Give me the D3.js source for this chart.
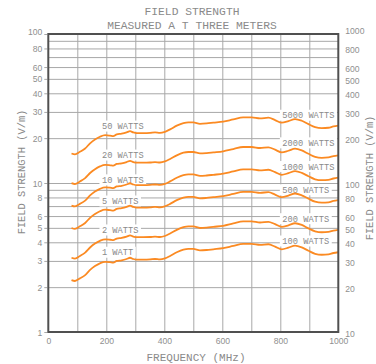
<!DOCTYPE html>
<html><head><meta charset="utf-8">
<script src="https://cdn.jsdelivr.net/npm/d3@7"></script>
<style>
html,body{margin:0;padding:0;background:#fff;}
svg{display:block;}
</style></head>
<body>
<svg id="c" width="376" height="364"></svg>
<script>
// ---- data ----
const freqs = [80,92,109,127,144,161,178,196,213,224,236,253,270,282,293,305,328,351,368,385,402,420,443,466,483,500,523,546,569,603,638,672,701,730,759,782,805,828,851,874,897,920,943,966,983,1000];
const w1  = [2.23,2.20,2.29,2.41,2.61,2.77,2.89,2.96,2.94,2.92,3.00,3.03,3.09,3.15,3.09,3.06,3.06,3.07,3.09,3.07,3.12,3.24,3.43,3.57,3.61,3.61,3.53,3.55,3.59,3.65,3.78,3.90,3.90,3.84,3.88,3.74,3.59,3.68,3.80,3.70,3.51,3.35,3.30,3.32,3.39,3.43];
const w2  = [3.15,3.11,3.24,3.41,3.69,3.92,4.09,4.19,4.16,4.13,4.24,4.29,4.37,4.45,4.37,4.33,4.33,4.34,4.37,4.34,4.41,4.58,4.85,5.05,5.11,5.11,4.99,5.02,5.08,5.16,5.35,5.52,5.52,5.43,5.49,5.29,5.08,5.20,5.37,5.23,4.96,4.74,4.67,4.70,4.79,4.85];
const w5  = [4.99,4.92,5.12,5.39,5.84,6.19,6.46,6.62,6.57,6.53,6.71,6.78,6.91,7.04,6.91,6.84,6.84,6.86,6.91,6.86,6.98,7.24,7.67,7.98,8.07,8.07,7.89,7.94,8.03,8.16,8.45,8.72,8.72,8.59,8.68,8.36,8.03,8.23,8.50,8.27,7.85,7.49,7.38,7.42,7.58,7.67];
const w10 = [7.05,6.96,7.24,7.62,8.25,8.76,9.14,9.36,9.30,9.23,9.49,9.58,9.77,9.96,9.77,9.68,9.68,9.71,9.77,9.71,9.87,10.25,10.85,11.29,11.42,11.42,11.16,11.23,11.35,11.54,11.95,12.33,12.33,12.14,12.27,11.83,11.35,11.64,12.02,11.70,11.10,10.59,10.44,10.50,10.72,10.85];
const w20 = [9.97,9.84,10.24,10.78,11.67,12.39,12.92,13.24,13.15,13.06,13.42,13.55,13.82,14.09,13.82,13.68,13.68,13.73,13.82,13.73,13.95,14.49,15.34,15.97,16.14,16.14,15.79,15.88,16.05,16.32,16.90,17.44,17.44,17.17,17.35,16.73,16.05,16.46,16.99,16.55,15.70,14.98,14.76,14.85,15.16,15.34];
const w50 = [15.77,15.56,16.19,17.04,18.46,19.59,20.44,20.93,20.79,20.65,21.21,21.43,21.85,22.27,21.85,21.64,21.64,21.71,21.85,21.71,22.06,22.91,24.25,25.24,25.53,25.53,24.96,25.10,25.39,25.81,26.73,27.58,27.58,27.15,27.44,26.45,25.39,26.02,26.87,26.16,24.82,23.69,23.33,23.48,23.97,24.25];
const seriesValues = [w1, w2, w5, w10, w20, w50];

const leftLabels  = ["1 WATT","2 WATTS","5 WATTS","10 WATTS","20 WATTS","50 WATTS"];
const leftLabelFreq = 185;
const leftLabelVals = [3.43, 4.84, 7.57, 10.5, 15.4, 24.1];
const rightLabels = ["100 WATTS","200 WATTS","500 WATTS","1000 WATTS","2000 WATTS","5000 WATTS"];
const rightLabelFreq = 807;
const rightLabelVals = [40.8, 57.6, 90, 129, 186, 285];

const xTicks = [0,200,400,600,800,1000];
const xGrid = [100,200,300,400,500,600,700,800,900];
const yTicksL = [1,2,3,4,5,6,8,10,20,30,40,50,60,80,100];
const yTicksR = [10,20,30,40,50,60,80,100,200,300,400,500,600,800,1000];
const yGrid = [2,3,4,5,6,7,8,9,10,20,30,40,50,60,70,80,90];

const title1 = "FIELD STRENGTH";
const title2 = "MEASURED A T THREE METERS";
const xTitle = "FREQUENCY (MHz)";
const yTitle = "FIELD STRENGTH (V/m)";

// ---- layout ----
const L = 48.3, R = 338.3, T = 34, B = 332;
const svg = d3.select("#c");
const x = d3.scaleLinear().domain([0,1000]).range([L,R]);
const y = d3.scaleLog().domain([1,100]).range([B,T]);
const yR = d3.scaleLog().domain([10,1000]).range([B,T]);

const mono = "'Liberation Mono','Courier New',monospace";
const sans = "'Liberation Sans','DejaVu Sans',Arial,sans-serif";
const gridCol = "#a8a8a8", tickTxt = "#8f8f8f", frameCol = "#505050", txtCol = "#8a8a8a";

// gridlines
const gx = svg.append("g").attr("transform",`translate(0,${B})`)
  .call(d3.axisBottom(x).tickValues(xGrid).tickSize(-(B-T)).tickFormat(""));
gx.select(".domain").remove();
gx.selectAll("line").attr("stroke",gridCol).attr("stroke-width",1);

const gy = svg.append("g").attr("transform",`translate(${L},0)`)
  .call(d3.axisLeft(y).tickValues(yGrid).tickSize(-(R-L)).tickFormat(""));
gy.select(".domain").remove();
gy.selectAll("line").attr("stroke",gridCol).attr("stroke-width",1);

// left axis labels
const ay = svg.append("g").attr("transform",`translate(${L-1},0)`)
  .call(d3.axisLeft(y).tickValues(yTicksL).tickSize(3).tickPadding(2).tickFormat(d3.format("d")));
ay.select(".domain").remove();
ay.selectAll("line").attr("stroke",gridCol);
ay.selectAll("text").attr("font-family",sans).attr("font-size","8.6px").attr("fill",tickTxt)
  .attr("dy", d => d===100 ? "0.05em" : "0.35em");

// right axis labels
const ar = svg.append("g").attr("transform",`translate(${R+1},0)`)
  .call(d3.axisRight(yR).tickValues(yTicksR).tickSize(0).tickPadding(6).tickFormat(d3.format("d")));
ar.select(".domain").remove();
ar.selectAll("text").attr("font-family",sans).attr("font-size","8.6px").attr("fill",tickTxt)
  .attr("dy", d => d===1000 ? "-0.1em" : "0.5em");

// bottom axis labels
const ax = svg.append("g").attr("transform",`translate(0,${B})`)
  .call(d3.axisBottom(x).tickValues(xTicks).tickSize(0).tickPadding(6).tickFormat(d3.format("d")));
ax.select(".domain").remove();
ax.selectAll("text").attr("font-family",sans).attr("font-size","8.6px").attr("fill",tickTxt);

// labels with white boxes
function addLabel(txt, px, py){
  const g = svg.append("g");
  const t = g.append("text").attr("x",px).attr("y",py+3.1)
    .attr("font-family",mono).attr("font-size","8.7px").attr("fill",txtCol).text(txt);
  const bb = t.node().getBBox();
  g.insert("rect","text").attr("x",bb.x-2.5).attr("y",py-5.5).attr("width",bb.width+5).attr("height",11).attr("fill","#fff");
}
leftLabels.forEach((s,i)=>addLabel(s, x(leftLabelFreq), y(leftLabelVals[i])));
rightLabels.forEach((s,i)=>addLabel(s, x(rightLabelFreq), yR(rightLabelVals[i])));

// curves
const line = d3.line().x((d,i)=>x(freqs[i])).y(d=>y(d)).curve(d3.curveMonotoneX);
svg.append("g").selectAll("path").data(seriesValues).join("path")
  .attr("d", line).attr("fill","none").attr("stroke","#fb8a22").attr("stroke-width",1.8)
  .attr("stroke-linejoin","round");

// frame
svg.append("rect").attr("x",L).attr("y",T).attr("width",R-L).attr("height",B-T)
  .attr("fill","none").attr("stroke",frameCol).attr("stroke-width",2);

// titles
svg.append("text").attr("x",192).attr("y",15).attr("text-anchor","middle")
  .attr("font-family",mono).attr("font-size","11.3px").attr("fill",txtCol).text(title1);
svg.append("text").attr("x",192).attr("y",28.5).attr("text-anchor","middle")
  .attr("font-family",mono).attr("font-size","11.3px").attr("fill",txtCol).text(title2);
svg.append("text").attr("x",196).attr("y",361).attr("text-anchor","middle")
  .attr("font-family",mono).attr("font-size","11px").attr("fill",txtCol).text(xTitle);
svg.append("text").attr("transform","translate(25,172) rotate(-90)").attr("text-anchor","middle")
  .attr("font-family",mono).attr("font-size","10.4px").attr("fill",txtCol).text(yTitle);
svg.append("text").attr("transform","translate(372.5,178) rotate(-90)").attr("text-anchor","middle")
  .attr("font-family",mono).attr("font-size","10.4px").attr("fill",txtCol).text(yTitle);
</script>
</body></html>
